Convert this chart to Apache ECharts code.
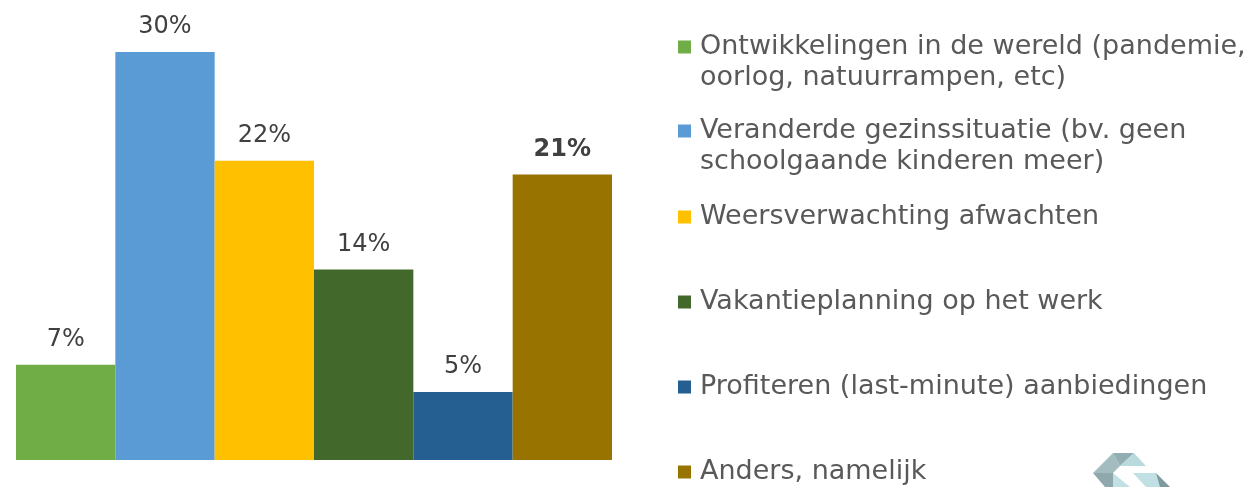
<!DOCTYPE html>
<html>
<head>
<meta charset="utf-8">
<script src="https://cdn.jsdelivr.net/npm/echarts@6/dist/echarts.min.js"></script>
<style>
  html, body { margin: 0; padding: 0; background: #fff; }
  #chart { width: 1248px; height: 487px; }
</style>
</head>
<body>
<div id="chart"></div>
<script>
// data
const categories = [''];
const seriesNames = [
  'Ontwikkelingen in de wereld (pandemie,\noorlog, natuurrampen, etc)',
  'Veranderde gezinssituatie (bv. geen\nschoolgaande kinderen meer)',
  'Weersverwachting afwachten',
  'Vakantieplanning op het werk',
  'Profiteren (last-minute) aanbiedingen',
  'Anders, namelijk'
];
const values = [7, 30, 22, 14, 5, 21];
const colors = ['#70AD47', '#5B9BD5', '#FFC000', '#43682B', '#255E91', '#997300'];

const FONT = 'DejaVu Sans';
const LINE = 31;
// icon centre of each legend entry
const legendCentres = [47, 131, 217, 302, 387, 472];

const chart = echarts.init(document.getElementById('chart'));

const series = seriesNames.map((name, i) => ({
  name: name,
  type: 'bar',
  data: [values[i]],
  barGap: '0%',
  barCategoryGap: '0%',
  itemStyle: { color: colors[i] },
  label: {
    show: true,
    position: 'top',
    distance: 13,
    formatter: '{c}%',
    color: '#404040',
    fontFamily: FONT,
    fontSize: 24,
    fontWeight: i === 5 ? 'bold' : 'normal'
  }
}));

// one legend per entry so the spacing stays even
const legends = seriesNames.map((name, i) => {
  const twoLines = name.indexOf('\n') >= 0;
  return {
    data: [name],
    orient: 'vertical',
    left: 678,
    top: twoLines ? legendCentres[i] - LINE * 1.5 : legendCentres[i] - LINE / 2,
    padding: 0,
    itemWidth: 13,
    itemHeight: 13,
    icon: 'rect',
    selectedMode: false,
    // empty first line keeps the first text line level with the icon
    formatter: n => (twoLines ? '\n' + n : n),
    textStyle: {
      color: '#595959',
      fontFamily: FONT,
      fontSize: 27,
      lineHeight: LINE,
      padding: [0, 0, 0, 4]
    }
  };
});

chart.setOption({
  animation: false,
  grid: { left: 16, width: 596, top: 52, bottom: 27 },
  xAxis: {
    type: 'category',
    data: categories,
    show: false
  },
  yAxis: {
    type: 'value',
    min: 0,
    max: 30,
    show: false
  },
  legend: legends,
  graphic: [
    // partial logo, bottom right
    { type: 'polygon', shape: { points: [[1093, 473], [1113, 453], [1120, 466], [1113, 473]] }, style: { fill: '#a3bcc0' } },
    { type: 'polygon', shape: { points: [[1113, 453], [1134, 453], [1120, 466]] }, style: { fill: '#93aeb2' } },
    { type: 'polygon', shape: { points: [[1120, 466], [1134, 453], [1146, 466]] }, style: { fill: '#b9dadd' } },
    { type: 'polygon', shape: { points: [[1093, 473], [1113, 473], [1113, 487], [1105, 487]] }, style: { fill: '#8ea8ac' } },
    { type: 'polygon', shape: { points: [[1113, 473], [1130, 487], [1113, 487]] }, style: { fill: '#c2e1e4' } },
    { type: 'polygon', shape: { points: [[1133, 473], [1156, 473], [1165, 487], [1146, 487]] }, style: { fill: '#c0e0e3' } },
    { type: 'polygon', shape: { points: [[1156, 473], [1170, 487], [1160, 487]] }, style: { fill: '#7f9a9e' } }
  ],
  series: series
});
</script>
</body>
</html>
